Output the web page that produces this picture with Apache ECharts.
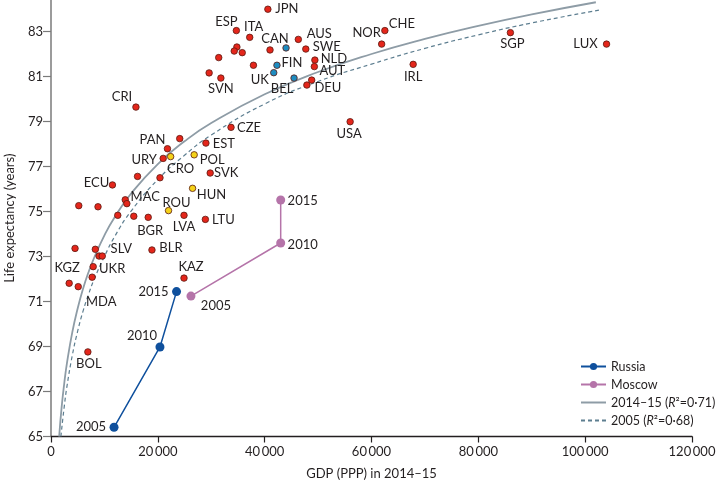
<!DOCTYPE html>
<html><head><meta charset="utf-8">
<script src="https://cdn.jsdelivr.net/npm/echarts@6/dist/echarts.min.js"></script>
<style>html,body{margin:0;padding:0;background:#fff}#c{width:716px;height:485px}</style>
</head><body><div id="c"></div>
<script>
// ---- tick labels ----
const xTickValues = [0, 20000, 40000, 60000, 80000, 100000, 120000];
const xTickLabels = ['0', '20\u2009000', '40\u2009000', '60\u2009000', '80\u2009000', '100\u2009000', '120\u2009000'];
const yTickValues = [65, 67, 69, 71, 73, 75, 77, 79, 81, 83];
const yTickLabels = ['65', '67', '69', '71', '73', '75', '77', '79', '81', '83'];

// ---- countries (red) ----
const redNames = ['JPN','ESP','ITA','AUS','SWE','NLD','AUT','DEU','','SVN','','','','','','','','CRI','CZE','PAN','','EST','URY','USA','CHE','NOR','SGP','LUX','IRL','ECU','','','','','SVK','MAC','','','','BGR','LVA','LTU','','','BLR','','SLV','UKR','','KGZ','MDA','KAZ','BOL'];
const redGdp = [40600,34700,37200,46300,47700,49400,49300,47900,48800,31800,41000,37900,34800,34300,35800,31400,29600,15900,33700,21800,24100,29000,21000,56000,62500,61900,86000,104000,67800,11500,5200,8800,16200,20400,29800,13900,14200,12500,15500,18200,24900,28900,4500,8300,18900,9000,9600,7900,7700,3400,5100,24900,6900];
const redLife = [83.99,83.04,82.74,82.65,82.22,81.73,81.44,80.62,80.84,80.93,82.18,81.50,82.31,82.13,82.06,81.84,81.16,79.64,78.74,77.79,78.24,78.04,77.36,78.99,83.04,82.44,82.95,82.44,81.54,76.18,75.26,75.21,76.56,76.50,76.71,75.52,75.35,74.83,74.79,74.74,74.83,74.65,73.36,73.32,73.29,73.02,73.02,72.55,72.08,71.81,71.66,72.04,68.76];

// ---- countries (yellow) ----
const yellowNames = ['POL','CRO','HUN','ROU'];
const yellowGdp = [26800,22400,26500,22000];
const yellowLife = [77.52,77.44,76.03,75.04];

// ---- countries (blue) ----
const blueNames = ['CAN','FIN','UK','BEL'];
const blueGdp = [44000,42300,41700,45500];
const blueLife = [82.27,81.50,81.17,80.93];

// ---- Russia / Moscow ----
const years = ['2005','2010','2015'];
const russiaGdp = [11800,20400,23500];
const russiaLife = [65.41,68.98,71.44];
const moscowGdp = [26200,43000,43000];
const moscowLife = [71.24,73.60,75.51];

// ---- fitted curves ----
const fit1415Gdp = [1530,2000,2500,3000,4000,5000,6000,7000,8000,10000,12000,15000,20000,25000,30000,40000,50000,60000,70000,80000,90000,102000];
const fit1415Life = [65.0,66.33,67.40,68.28,69.65,70.70,71.57,72.29,72.90,73.94,74.78,75.80,77.11,78.12,78.93,80.21,81.20,82.00,82.67,83.25,83.76,84.3];
const fit2005Gdp = [1850,2500,3000,4000,5000,6000,7000,8000,10000,12000,15000,20000,25000,30000,40000,50000,60000,70000,80000,90000,102800];
const fit2005Life = [65.0,66.37,67.25,68.62,69.69,70.57,71.30,71.94,73.00,73.92,75.02,76.42,77.50,78.40,79.78,80.78,81.55,82.25,82.85,83.38,83.96];

// ---- layout (label offsets from point centre, px) ----
const labelOffsets = {
  JPN:[19,0], ESP:[-10,-9], ITA:[4,-11], CAN:[-11,-9], AUS:[21,-6], SWE:[21,-2], NLD:[19,-1],
  AUT:[18,4], DEU:[21,3], FIN:[15,-2], UK:[-14,7], BEL:[-12,11], SVN:[0,11], CRI:[-14,-10],
  CZE:[18,0], PAN:[-15,-9], EST:[18,1], POL:[18,5], CRO:[10,12], URY:[-19,1], USA:[-1,12],
  CHE:[17,-7], NOR:[-15,-11], SGP:[2,11], LUX:[-21,0], IRL:[0,12], ECU:[-16,-2], SVK:[16,0],
  MAC:[20,-3], HUN:[19,6], ROU:[8,-8], LVA:[0,11], LTU:[18,0], BGR:[2,13], BLR:[19,-2],
  SLV:[19,-7], KGZ:[-2,-15], UKR:[19,2], MDA:[23,15], KAZ:[7,-11], BOL:[1,12]
};
const russiaOffsets = [[-23,0],[-18,-11],[-23,0]];
const moscowOffsets = [[25,10],[22,2],[22,1]];

const FONT = 'Lato, "Noto Sans", sans-serif';
const TXT = '#231f20';

function countryData(names, gdp, life) {
  return names.map((n, i) => {
    const d = { name: n, value: [gdp[i], life[i]] };
    if (n && labelOffsets[n]) {
      d.label = { show: true, offset: labelOffsets[n] };
    } else {
      d.label = { show: false };
    }
    return d;
  });
}
function trackData(gdp, life, offs) {
  return gdp.map((g, i) => ({ name: years[i], value: [g, life[i]], label: { show: true, offset: offs[i] } }));
}
function countrySeries(name, names, gdp, life, color) {
  return {
    name: name, type: 'scatter', symbol: 'circle', symbolSize: 6.5, z: 5,
    itemStyle: { color: color, borderColor: '#5a1a12', borderWidth: 0.8, opacity: 1 },
    label: { position: 'inside', formatter: '{b}', color: TXT, fontFamily: FONT, fontSize: 13 },
    emphasis: { disabled: true },
    data: countryData(names, gdp, life)
  };
}

const chart = echarts.init(document.getElementById('c'), null, { renderer: 'canvas' });
chart.setOption({
  animation: false,
  backgroundColor: '#ffffff',
  textStyle: { fontFamily: FONT },
  grid: { left: 51, right: 24, top: 0, bottom: 48.5, outerBoundsMode: 'none' },
  legend: {
    orient: 'vertical', left: 575, top: 354,
    itemWidth: 25, itemHeight: 9, itemGap: 3, itemTextGap: 4,
    data: [
      'Russia', 'Moscow',
      { name: '2014\u201315', itemStyle: { color: 'rgba(0,0,0,0)', borderColor: 'rgba(0,0,0,0)', borderWidth: 0 } },
      { name: '2005', itemStyle: { color: 'rgba(0,0,0,0)', borderColor: 'rgba(0,0,0,0)', borderWidth: 0 } }
    ],
    textStyle: { fontFamily: FONT, fontSize: 12.5, color: TXT, lineHeight: 15,
      rich: { i: { fontStyle: 'italic', fontFamily: FONT, fontSize: 12.5, color: TXT } } },
    formatter: function (n) {
      if (n === '2014\u201315') return '2014\u201315 ({i|R}\u00b2=0\u00b771)';
      if (n === '2005') return '2005 ({i|R}\u00b2=0\u00b768)';
      return n;
    }
  },
  xAxis: {
    type: 'value', min: 0, max: 120000, interval: 20000,
    name: 'GDP (PPP) in 2014\u201315', nameLocation: 'middle', nameGap: 31,
    nameTextStyle: { fontFamily: FONT, fontSize: 13, color: TXT },
    splitLine: { show: false },
    axisLine: { lineStyle: { color: '#231f20', width: 1.3 } },
    axisTick: { show: true, length: 6, lineStyle: { color: '#231f20', width: 1.2 } },
    axisLabel: { margin: 9, fontFamily: FONT, fontSize: 13, color: TXT,
      formatter: v => { const i = xTickValues.indexOf(v); return i >= 0 ? xTickLabels[i] : ''; } }
  },
  yAxis: {
    type: 'value', min: 65, max: 84.4,
    name: 'Life expectancy (years)', nameLocation: 'middle', nameGap: 35,
    nameTextStyle: { fontFamily: FONT, fontSize: 13, color: TXT },
    splitLine: { show: false },
    axisLine: { show: true, lineStyle: { color: '#7a7a7a', width: 1.5 } },
    axisTick: { show: true, length: 8, customValues: yTickValues, lineStyle: { color: '#7a7a7a', width: 1.2 } },
    axisLabel: { margin: 8, fontFamily: FONT, fontSize: 13, color: TXT, customValues: yTickValues,
      formatter: v => { const i = yTickValues.indexOf(v); return i >= 0 ? yTickLabels[i] : ''; } }
  },
  series: [
    {
      name: '2014\u201315', type: 'line', smooth: true, showSymbol: false, symbol: 'none', z: 2,
      lineStyle: { color: '#8e9ca6', width: 1.8 }, itemStyle: { color: '#8e9ca6' },
      emphasis: { disabled: true },
      data: fit1415Gdp.map((g, i) => [g, fit1415Life[i]])
    },
    {
      name: '2005', type: 'line', smooth: true, showSymbol: false, symbol: 'none', z: 2,
      lineStyle: { color: '#5d7e90', width: 1.2, type: [4, 3] }, itemStyle: { color: '#5d7e90' },
      emphasis: { disabled: true },
      data: fit2005Gdp.map((g, i) => [g, fit2005Life[i]])
    },
    countrySeries('red', redNames, redGdp, redLife, '#e4261b'),
    countrySeries('yellow', yellowNames, yellowGdp, yellowLife, '#f4d219'),
    countrySeries('blue', blueNames, blueGdp, blueLife, '#1e8cc0'),
    {
      name: 'Russia', type: 'line', symbol: 'circle', symbolSize: 9, z: 6,
      lineStyle: { color: '#0f509d', width: 1.5 }, itemStyle: { color: '#0f509d' },
      label: { position: 'inside', formatter: '{b}', color: TXT, fontFamily: FONT, fontSize: 13 },
      emphasis: { disabled: true },
      data: trackData(russiaGdp, russiaLife, russiaOffsets)
    },
    {
      name: 'Moscow', type: 'line', symbol: 'circle', symbolSize: 9, z: 6,
      lineStyle: { color: '#b574a9', width: 1.5 }, itemStyle: { color: '#b574a9' },
      label: { position: 'inside', formatter: '{b}', color: TXT, fontFamily: FONT, fontSize: 13 },
      emphasis: { disabled: true },
      data: trackData(moscowGdp, moscowLife, moscowOffsets)
    }
  ]
});
</script>
</body></html>
